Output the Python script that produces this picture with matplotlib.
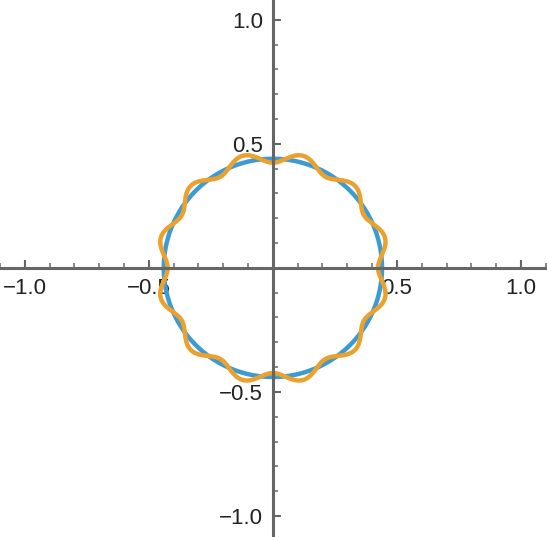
import numpy as np
import matplotlib.pyplot as plt
from matplotlib.ticker import MultipleLocator

# curve parameters
circle_radius = 0.44
wavy_radius = 0.446
wave_amp = 0.022
n_waves = 12

major_ticks = [-1.0, -0.5, 0.5, 1.0]
tick_labels = ["\u22121.0", "\u22120.5", "0.5", "1.0"]

blue = "#3d9bd3"
orange = "#eba12e"
axis_gray = "#666666"

t = np.linspace(0, 2 * np.pi, 2000)
cx = circle_radius * np.cos(t)
cy = circle_radius * np.sin(t)
# polar wave: radius dips on the axes
r = wavy_radius - wave_amp * np.cos(n_waves * t)
wx = r * np.cos(t)
wy = r * np.sin(t)

fig = plt.figure(figsize=(5.47, 5.37), dpi=100)
ax = fig.add_axes([0, 0, 1, 1])

ax.plot(cx, cy, color=blue, lw=3.2, solid_capstyle="round")
ax.plot(wx, wy, color=orange, lw=3.2, solid_capstyle="round")

ax.set_xlim(-1.1, 1.105)
ax.set_ylim(-1.085, 1.08)
ax.set_aspect("equal")

for side in ["top", "right"]:
    ax.spines[side].set_visible(False)
for side in ["bottom", "left"]:
    ax.spines[side].set_position("zero")
    ax.spines[side].set_color(axis_gray)
    ax.spines[side].set_linewidth(2.2)

ax.set_xticks(major_ticks)
ax.set_xticklabels(tick_labels)
ax.set_yticks(major_ticks)
ax.set_yticklabels(tick_labels)
ax.xaxis.set_minor_locator(MultipleLocator(0.1))
ax.yaxis.set_minor_locator(MultipleLocator(0.1))

ax.tick_params(which="major", direction="in", length=6, width=1.5,
               color=axis_gray, labelsize=16, labelcolor="#222222", pad=7)
ax.tick_params(which="minor", direction="in", length=3.5, width=1.1,
               color=axis_gray)
for lab in ax.get_xticklabels() + ax.get_yticklabels():
    lab.set_fontfamily("Liberation Sans")

fig.savefig("out.png", dpi=100)
